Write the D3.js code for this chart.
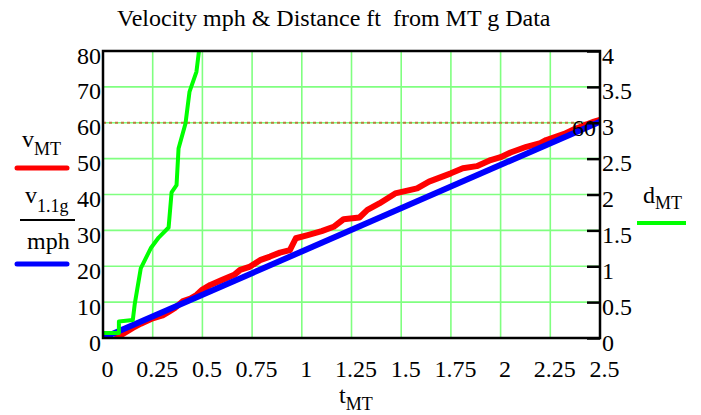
<!DOCTYPE html>
<html><head><meta charset="utf-8">
<script src="https://cdn.jsdelivr.net/npm/d3@7/dist/d3.min.js"></script>
<style>
html,body{margin:0;padding:0;background:#fff;}
</style></head>
<body>
<svg id="c" width="701" height="415" font-family="Liberation Serif"><text id="title" x="117" y="26" font-family="Liberation Serif" font-size="24" xml:space="preserve">Velocity mph &amp; Distance ft  from MT g Data</text></svg>
<script>
// ---- data ----
const xTicks = [0,0.25,0.5,0.75,1,1.25,1.5,1.75,2,2.25,2.5];
const xTickLabels = ["0","0.25","0.5","0.75","1","1.25","1.5","1.75","2","2.25","2.5"];
const leftTicks = [0,10,20,30,40,50,60,70,80];
const rightTicks = [0,0.5,1,1.5,2,2.5,3,3.5,4];
const rightTickLabels = ["0","0.5","1","1.5","2","2.5","3","3.5","4"];
const markerValue = 60;

// v_MT (mph) measured
const tMT = [0.06,0.09,0.15,0.19,0.25,0.30,0.33,0.36,0.40,0.44,0.47,0.50,0.54,0.60,0.66,0.69,0.74,0.79,0.84,0.89,0.94,0.97,1.03,1.10,1.16,1.21,1.29,1.33,1.39,1.47,1.58,1.64,1.75,1.81,1.88,1.95,2.00,2.05,2.13,2.20,2.23,2.32,2.37,2.47,2.50];
const vMT = [0,0.8,2.8,4.0,5.5,6.3,7.3,8.3,10.2,11.0,12.0,13.5,14.8,16.2,17.6,19.0,19.9,21.7,22.7,23.8,24.5,27.8,28.7,29.8,31.0,33.1,33.6,35.7,37.5,40.3,41.7,43.6,45.9,47.3,47.9,49.6,50.4,51.7,53.3,54.3,55.2,56.9,58.2,60.3,60.8];

// v_1.1g (mph) reference line
const tRef = [0,2.5];
const vRef = [0,60.3];

// d_MT (ft) measured
const tD = [0,0.08,0.08,0.15,0.16,0.19,0.24,0.28,0.33,0.345,0.37,0.38,0.415,0.435,0.47,0.485];
const dMT = [0.07,0.07,0.23,0.25,0.48,0.97,1.25,1.40,1.54,2.03,2.13,2.64,2.99,3.43,3.71,4.05];

// ---- layout ----
const L = 103, R = 600, T = 51, B = 338;
const svg = d3.select("#c");
const x = d3.scaleLinear().domain([0,2.5]).range([L,R]);
const yL = d3.scaleLinear().domain([0,80]).range([B,T]);
const yR = d3.scaleLinear().domain([0,4]).range([B,T]);

// grid
const grid = svg.insert("g","#title");
grid.selectAll("line.v").data(xTicks.slice(1,-1)).join("line")
  .attr("x1",d=>x(d)).attr("x2",d=>x(d)).attr("y1",T).attr("y2",B)
  .attr("stroke","#80ff80").attr("stroke-width",1.6);
grid.selectAll("line.h").data(leftTicks.slice(1,-1)).join("line")
  .attr("x1",L).attr("x2",R).attr("y1",d=>yL(d)).attr("y2",d=>yL(d))
  .attr("stroke","#80ff80").attr("stroke-width",1.6);

// marker line at 60
svg.append("line").attr("x1",L).attr("x2",R).attr("y1",yL(markerValue)).attr("y2",yL(markerValue))
  .attr("stroke","#c07840").attr("stroke-width",2).attr("stroke-dasharray","3,3");

// clip
svg.append("clipPath").attr("id","pc").append("rect")
  .attr("x",L).attr("y",T).attr("width",R-L).attr("height",B-T);
const plot = svg.append("g").attr("clip-path","url(#pc)");

const lineL = d3.line().x(d=>x(d[0])).y(d=>yL(d[1]));
const lineR = d3.line().x(d=>x(d[0])).y(d=>yR(d[1]));

plot.append("path").attr("d",lineL(tMT.map((t,i)=>[t,vMT[i]])))
  .attr("fill","none").attr("stroke","#ff0000").attr("stroke-width",6).attr("stroke-linejoin","round");
plot.append("path").attr("d",lineL(tRef.map((t,i)=>[t,vRef[i]])))
  .attr("fill","none").attr("stroke","#0000ff").attr("stroke-width",6);
plot.append("path").attr("d",lineR(tD.map((t,i)=>[t,dMT[i]])))
  .attr("fill","none").attr("stroke","#00ff00").attr("stroke-width",4).attr("stroke-linejoin","round");

// axes
const fs = 24;
function styleText(sel, ff){ sel.attr("font-size",fs).attr("font-family",ff).attr("fill","#000"); }
const ax = svg.append("g").attr("transform",`translate(0,${B})`)
  .call(d3.axisBottom(x).tickValues(xTicks).tickFormat((d,i)=>xTickLabels[i]).tickSize(0));
ax.attr("font-family","Liberation Serif").attr("font-size",fs);
ax.select(".domain").remove();
ax.selectAll("text").attr("dy",null).attr("y",39).attr("x",4).call(styleText,"Liberation Serif");

const al = svg.append("g").attr("transform",`translate(${L},0)`)
  .call(d3.axisLeft(yL).tickValues(leftTicks).tickFormat(d3.format("d")).tickSize(0).tickPadding(2));
al.attr("font-family","serif").attr("font-size",fs);
al.select(".domain").remove();
al.selectAll("text").attr("dy",null).attr("y",12).call(styleText,"serif");

const ar = svg.append("g").attr("transform",`translate(${R},0)`)
  .call(d3.axisRight(yR).tickValues(rightTicks).tickFormat((d,i)=>rightTickLabels[i]).tickSize(-13).tickPadding(3));
ar.attr("font-family","Times New Roman").attr("font-size",fs);
ar.select(".domain").remove();
ar.selectAll("line").attr("stroke","#000").attr("stroke-width",2.5);
ar.selectAll("text").attr("dy",null).attr("y",12).attr("x",2).call(styleText,"Times New Roman");

// frame
svg.append("rect").attr("x",L).attr("y",T).attr("width",R-L).attr("height",B-T)
  .attr("fill","none").attr("stroke","#000").attr("stroke-width",2.5);

const FF = "Liberation Serif";
function txt(xp,yp){ return svg.append("text").attr("x",xp).attr("y",yp).call(styleText,FF); }

// marker label
txt(596, yL(markerValue)+13).attr("text-anchor","end").text(String(markerValue));

// x label
const xl = txt(339,403);
xl.append("tspan").text("t");
xl.append("tspan").attr("dy",7).attr("font-size",18).text("MT");

// left legend
const l1 = txt(22,147);
l1.append("tspan").text("v");
l1.append("tspan").attr("dy",8).attr("font-size",18).text("MT");
svg.append("line").attr("x1",17).attr("x2",67).attr("y1",168).attr("y2",168)
  .attr("stroke","#ff0000").attr("stroke-width",5).attr("stroke-linecap","round");

const l2 = txt(25,203);
l2.append("tspan").text("v");
l2.append("tspan").attr("dy",9).attr("font-size",18).text("1.1g");
svg.append("line").attr("x1",20).attr("x2",75).attr("y1",220).attr("y2",220)
  .attr("stroke","#000").attr("stroke-width",2);
txt(27,249).text("mph");
svg.append("line").attr("x1",17).attr("x2",67).attr("y1",264).attr("y2",264)
  .attr("stroke","#0000ff").attr("stroke-width",5).attr("stroke-linecap","round");

// right legend
const l3 = txt(643,203);
l3.append("tspan").text("d");
l3.append("tspan").attr("dy",6).attr("font-size",18).text("MT");
svg.append("line").attr("x1",637).attr("x2",686).attr("y1",223).attr("y2",223)
  .attr("stroke","#00ff00").attr("stroke-width",4);
</script>
</body></html>
